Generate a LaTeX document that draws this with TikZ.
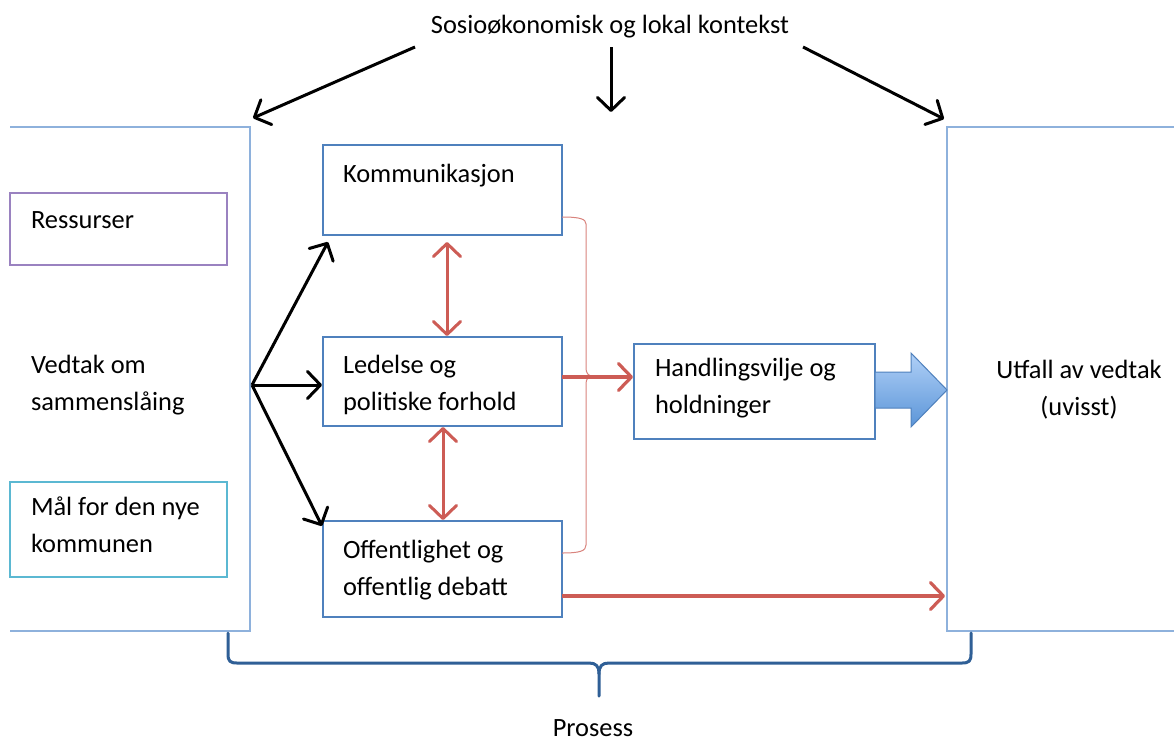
\documentclass[tikz,border=0pt]{standalone}
\usepackage{fontspec}
\setmainfont{Carlito}
\usetikzlibrary{arrows.meta}
\definecolor{boxblue}{HTML}{4F81BD}
\definecolor{contblue}{HTML}{8EB1DC}
\definecolor{respurple}{HTML}{9A82C0}
\definecolor{malcyan}{HTML}{5BB8D2}
\definecolor{arred}{HTML}{CD5C55}
\definecolor{bracered}{HTML}{D9837D}
\definecolor{braceblue}{HTML}{2F5F96}
\definecolor{arrtop}{HTML}{B0D0F7}
\definecolor{arrbot}{HTML}{5B95D8}
\tikzset{
  every node/.style={font=\fontsize{26.4}{37}\selectfont, inner sep=0pt, outer sep=0pt},
  box/.style={draw=boxblue, line width=1.7pt, anchor=north west},
  txt/.style={anchor=base west, align=left},
  cont/.style={draw=contblue, line width=1.2pt},
  barb/.style={Straight Barb[length=13pt,width=27pt,line cap=round,line join=round]},
  blk/.style={line width=3pt, -{Straight Barb[length=13pt,width=27pt,line cap=round,line join=round]}},
  redarr/.style={draw=arred, line width=3pt, {Straight Barb[length=13pt,width=27pt,line cap=round,line join=round]}-{Straight Barb[length=13pt,width=27pt,line cap=round,line join=round]}},
  redone/.style={draw=arred, line width=3.2pt, -{Straight Barb[length=13pt,width=27pt,line cap=round,line join=round]}},
}
\begin{document}
\begin{tikzpicture}[x=1pt,y=-1pt]
\useasboundingbox (0,0) rectangle (1174,742);
\fill[white] (0,0) rectangle (1174,742);

% containers
\draw[cont] (10,127) -- (250,127) -- (250,631) -- (10,631);
\draw[cont] (1174,127) -- (947,127) -- (947,631) -- (1174,631);

% title
\node[anchor=base] (title) at (610,33) {Sosioøkonomisk og lokal kontekst};
\coordinate (tl) at (415,47);
\coordinate (tm) at (611,47);
\coordinate (tr) at (803,47);
\coordinate (leftin) at (253,118);
\coordinate (midin) at (611,112);
\coordinate (rightin) at (944,119);
\draw[blk] (tl) -- (leftin);
\draw[blk] (tm) -- (midin);
\draw[blk] (tr) -- (rightin);

% left boxes
\node[box, draw=respurple, minimum width=217pt, minimum height=72pt] (res) at (10,193) {};
\node[txt] (rest) at (31,228) {Ressurser};
\node[box, draw=malcyan, minimum width=217pt, minimum height=95pt] (mal) at (10,482) {};
\node[txt] (malt) at (31,552) {Mål for den nye\\kommunen};
\node[txt] (vedt) at (31,410) {Vedtak om\\sammenslåing};

% middle boxes
\node[box, minimum width=239pt, minimum height=90pt] (kom) at (323,145) {};
\node[txt] (komt) at (343,182) {Kommunikasjon};
\node[box, minimum width=239pt, minimum height=89pt] (led) at (323,337) {};
\node[txt] (ledt) at (343,410) {Ledelse og\\politiske forhold};
\node[box, minimum width=239pt, minimum height=96pt] (off) at (323,521) {};
\node[txt] (offt) at (343,595) {Offentlighet og\\offentlig debatt};
\node[box, minimum width=241pt, minimum height=95pt] (hand) at (634,344) {};
\node[txt] (handt) at (655,413) {Handlingsvilje og\\holdninger};

% right text
\node[anchor=base, align=center] (utf) at (1079,415) {Utfall av vedtak\\(uvisst)};

% fan arrows
\coordinate (v) at (252,385);
\coordinate (komin) at (328,242);
\coordinate (ledin) at (322,385);
\coordinate (offin) at (322,526);
\draw[blk] (v) -- (komin);
\draw[blk] (v) -- (ledin);
\draw[blk] (v) -- (offin);

% red double arrows
\draw[redarr] (447,242) -- (447,336);
\draw[redarr] (443,427) -- (443,520);

% red bracket
\draw[draw=bracered, line width=1pt]
  (kom.east |- 0,217) .. controls (580,217) and (586,219) .. (586,224)
  -- (586,368) .. controls (586,373) and (588,376) .. (593,376)
  .. controls (588,376) and (586,379) .. (586,384)
  -- (586,545) .. controls (586,551) and (580,553) .. (led.east |- 0,553);
\coordinate (ledout) at (562,377);
\coordinate (handin) at (633,377);
\draw[redone] (ledout) -- (handin);
\coordinate (offout) at (562,596);
\coordinate (utfin) at (945,596);
\draw[redone] (offout) -- (utfin);

% blue block arrow
\shade[top color=arrtop, bottom color=arrbot, draw=boxblue, line width=1pt]
  (hand.east |- 0,372) -- (911,372) -- (911,353) -- (947,390) -- (911,427) -- (911,408) -- (hand.east |- 0,408) -- cycle;

% brace
\draw[draw=braceblue, line width=3pt, line cap=round, line join=round]
  (228,633) -- (228,654) .. controls (228,661) and (230,663) .. (237,663)
  -- (589,663) .. controls (596,663) and (599,666) .. (599,674) -- (599,696);
\draw[draw=braceblue, line width=3pt, line cap=round, line join=round]
  (599,674) .. controls (599,666) and (602,663) .. (609,663)
  -- (962,663) .. controls (969,663) and (971,661) .. (971,654) -- (971,633);
\node[anchor=base] (pros) at (593,736) {Prosess};
\end{tikzpicture}
\end{document}
